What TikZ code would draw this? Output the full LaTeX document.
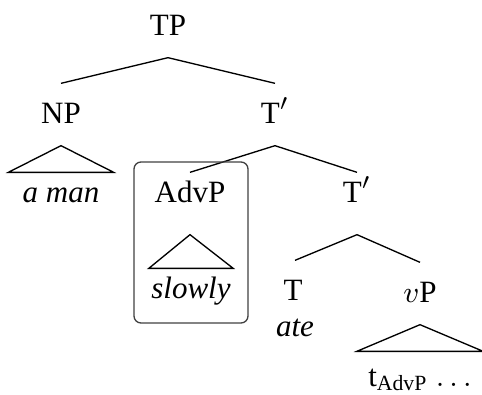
\documentclass[tikz,border=0pt]{standalone}
\usepackage{fontspec}
\setmainfont{Liberation Serif}
\usepackage{tikz}

\begin{document}
\begin{tikzpicture}[x=0.3pt,y=-0.3pt,font=\fontsize{9.3}{11}\selectfont]
	\tikzset{cat/.style = {anchor=base,inner sep=0pt,text height=8.7pt,text depth=6.6pt}}
	\tikzstyle{tall} = [text height=11.7pt]
	\tikzstyle{deep} = [text depth=9.6pt]
	\tikzstyle{edge} = [thin]
	\tikzstyle{frame} = [draw=black!75,thin,rounded corners=2.1pt]
	\useasboundingbox (0,0) rectangle (482,394);
	%top
	\node[cat] (tp) at (168,35) {TP};
	\node[cat,tall] (np) at (61,123) {NP};
	\node[cat,tall] (tbar1) at (275,123) {T$'$};
	%middle
	\node[cat,minimum width=31.2pt] (aman) at (61,202) {\itshape a man};
	\node[cat,deep] (advp) at (190,202) {AdvP};
	\node[cat,deep] (tbar2) at (357,202) {T$'$};
	\node[cat,minimum width=24.9pt] (slowly) at (191,298) {\itshape slowly};
	%bottom
	\node[cat,tall] (t) at (293,300) {T};
	\node[cat,tall] (vp) at (420,302) {$v$P};
	\node[cat] (ate) at (295,336) {\itshape ate};
	\node[cat,text height=10.2pt,minimum width=37.5pt] (trace) at (420,386) {t\textsubscript{AdvP} $\ldots$};
	%branches
	\draw[edge] (tp.south) -- (np.north);
	\draw[edge] (tp.south) -- (tbar1.north);
	\draw[edge] (tbar1.south) -- (advp.north);
	\draw[edge] (tbar1.south) -- (tbar2.north);
	\draw[edge] (tbar2.south) -- (t.north -| ate);
	\draw[edge] (tbar2.south) -- (vp.north);
	%triangles
	\draw[edge] (np.south) -- (aman.north west) -- (aman.north east) -- cycle;
	\draw[edge] (advp.south) -- (slowly.north west) -- (slowly.north east) -- cycle;
	\draw[edge] (vp.south) -- (trace.north west) -- (trace.north east) -- cycle;
	%box
	\draw[frame] (134,162) rectangle (248,323);
\end{tikzpicture}
\end{document}
